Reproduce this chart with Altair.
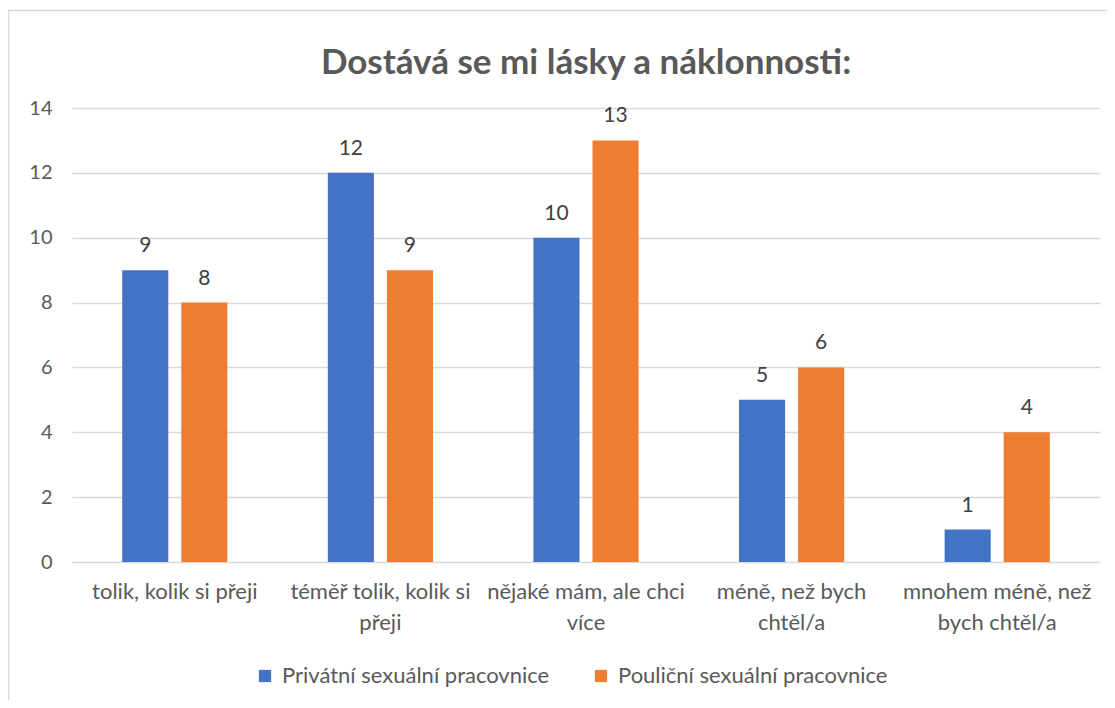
import altair as alt
import pandas as pd

categories = [
    "tolik, kolik si přeji",
    "téměř tolik, kolik si přeji",
    "nějaké mám, ale chci více",
    "méně, než bych chtěl/a",
    "mnohem méně, než bych chtěl/a",
]
label_lines = [
    ["tolik, kolik si přeji"],
    ["téměř tolik, kolik si", "přeji"],
    ["nějaké mám, ale chci", "více"],
    ["méně, než bych", "chtěl/a"],
    ["mnohem méně, než", "bych chtěl/a"],
]
series = ["Privátní sexuální pracovnice", "Pouliční sexuální pracovnice"]
privatni = [9, 12, 10, 5, 1]
poulicni = [8, 9, 13, 6, 4]
colors = ["#4472C4", "#ED7D31"]
y_ticks = [0, 2, 4, 6, 8, 10, 12, 14]

rows = []
for i, c in enumerate(categories):
    rows.append({"cat": c, "series": series[0], "value": privatni[i]})
    rows.append({"cat": c, "series": series[1], "value": poulicni[i]})
df = pd.DataFrame(rows)

mapping = ", ".join(
    "'" + c + "': [" + ", ".join("'" + l + "'" for l in lines) + "]"
    for c, lines in zip(categories, label_lines)
)
label_expr = "{" + mapping + "}[datum.value]"

FONT = "Lato"
GREY = "#595959"

x = alt.X(
    "cat:N",
    sort=categories,
    title=None,
    scale=alt.Scale(paddingInner=0, paddingOuter=0),
    axis=alt.Axis(
        labelExpr=label_expr,
        labelAngle=0,
        labelFontSize=22,
        labelColor=GREY,
        labelFont=FONT,
        labelPadding=19,
        labelLineHeight=31,
        ticks=False,
        domainColor="#d9d9d9",
        labelLimit=400,
    ),
)
xoff = alt.XOffset(
    "series:N", sort=series, scale=alt.Scale(paddingInner=0.22, paddingOuter=0.85)
)
y = alt.Y(
    "value:Q",
    title=None,
    scale=alt.Scale(domain=[0, 14], nice=False),
    axis=alt.Axis(
        values=y_ticks,
        labelFontSize=20,
        labelColor=GREY,
        labelFont=FONT,
        labelPadding=20,
        ticks=False,
        domain=False,
        gridColor="#d9d9d9",
        gridWidth=1.3,
    ),
)

base = alt.Chart(df)
bars = base.mark_bar().encode(
    x=x,
    xOffset=xoff,
    y=y,
    color=alt.Color(
        "series:N",
        sort=series,
        scale=alt.Scale(domain=series, range=colors),
        legend=alt.Legend(
            title=None,
            orient="none",
            legendX=182,
            legendY=557,
            direction="horizontal",
            symbolType="square",
            symbolSize=150,
            symbolStrokeWidth=0,
            labelFontSize=22,
            labelFont=FONT,
            labelColor=GREY,
            labelLimit=500,
            columnPadding=40,
            labelOffset=6,
        ),
    ),
)
labels = base.mark_text(
    dy=-18, baseline="alphabetic", fontSize=21, font=FONT, color="#404040"
).encode(x=x, xOffset=xoff, y=y, text="value:Q")

border = alt.Chart(alt.Data(values=[{}])).mark_rect(
    fill="transparent", stroke="#d9d9d9", strokeWidth=1.5
).encode(
    x=alt.value(-63.5), x2=alt.value(1100), y=alt.value(-97.5), y2=alt.value(700)
)

chart = (
    alt.layer(border, bars, labels)
    .properties(
        width=1028,
        height=454,
        autosize=alt.AutoSizeParams(type="none"),
        padding={"left": 64, "top": 100, "right": 7, "bottom": 138},
        title=alt.Title(
            "Dostává se mi lásky a náklonnosti:",
            fontSize=35,
            font=FONT,
            fontWeight="bold",
            color=GREY,
            anchor="middle",
            frame="group",
            baseline="alphabetic",
            offset=-99,
        ),
    )
    .configure_view(stroke=None)
)

chart.save("out.html", embed_options={"renderer": "svg", "actions": False})
